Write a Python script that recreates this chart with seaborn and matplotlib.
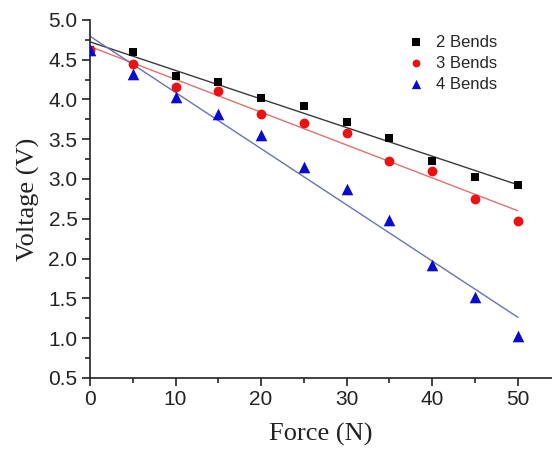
import matplotlib
matplotlib.use("Agg")
import matplotlib.pyplot as plt
import seaborn as sns
import pandas as pd
import numpy as np
from matplotlib.ticker import MultipleLocator, FormatStrFormatter

force = [0, 5, 10, 15, 20, 25, 30, 35, 40, 45, 50]
bends2 = [4.62, 4.60, 4.30, 4.22, 4.02, 3.92, 3.72, 3.52, 3.22, 3.02, 2.92]
bends3 = [4.62, 4.45, 4.15, 4.10, 3.82, 3.70, 3.58, 3.22, 3.10, 2.75, 2.47]
bends4 = [4.62, 4.32, 4.03, 3.82, 3.55, 3.15, 2.87, 2.48, 1.92, 1.52, 1.03]
labels = ["2 Bends", "3 Bends", "4 Bends"]

sns.set_style("ticks")
plt.rcParams["font.family"] = ["Liberation Sans", "DejaVu Sans"]

fig = plt.figure(figsize=(5.52, 4.51), dpi=100)
ax = fig.add_axes([0.163, 0.162, 0.837, 0.794])

series = [bends2, bends3, bends4]
marker_styles = ["s", "o", "^"]
marker_sizes = [40, 50, 70]
marker_colors = ["#000000", "#ee1111", "#0a0ad0"]
line_colors = ["#3a3a3a", "#e07070", "#6a72b4"]

for vals, lab, m, ms, mc, lc in zip(series, labels, marker_styles, marker_sizes, marker_colors, line_colors):
    df = pd.DataFrame({"Force": force, "Voltage": vals})
    sns.regplot(data=df, x="Force", y="Voltage", ax=ax, scatter=False, ci=None,
                truncate=True, line_kws={"color": lc, "linewidth": 1.0})
    sns.scatterplot(data=df, x="Force", y="Voltage", ax=ax, marker=m, color=mc,
                    s=ms, edgecolor=mc, linewidth=0, label=lab, zorder=3)

ax.set_xlim(0, 54)
ax.set_ylim(0.5, 5.0)
ax.xaxis.set_major_locator(MultipleLocator(10))
ax.xaxis.set_minor_locator(MultipleLocator(5))
ax.yaxis.set_major_locator(MultipleLocator(0.5))
ax.yaxis.set_minor_locator(MultipleLocator(0.25))
ax.yaxis.set_major_formatter(FormatStrFormatter("%.1f"))
ax.tick_params(which="major", direction="out", length=6, width=1.2, labelsize=15,
               colors="#222222", pad=3)
ax.tick_params(which="minor", direction="out", length=3.5, width=1.2, colors="#222222")
for s in ["left", "bottom"]:
    ax.spines[s].set_linewidth(1.2)
    ax.spines[s].set_color("#222222")
sns.despine(ax=ax)

serif = ["Liberation Serif", "DejaVu Serif"]
ax.set_xlabel("Force (N)", family=serif, fontsize=19, labelpad=10, color="#222222")
ax.set_ylabel("Voltage (V)", family=serif, fontsize=19, labelpad=6, color="#222222")

ax.legend(loc="upper left", bbox_to_anchor=(0.655, 1.0), frameon=False, fontsize=12,
          handletextpad=0.7, labelspacing=0.35, markerscale=0.8, handlelength=1.0)

plt.savefig("out.png", dpi=100)
